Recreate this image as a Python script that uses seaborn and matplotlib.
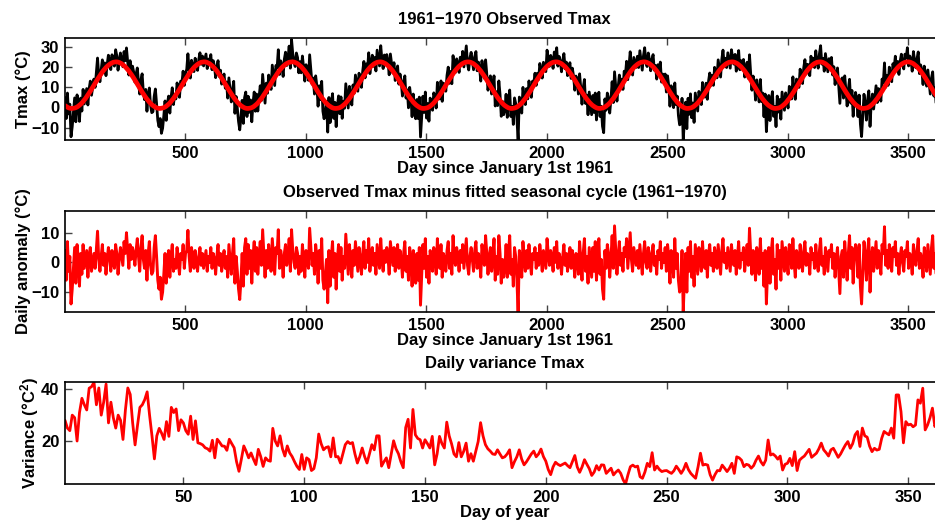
import numpy as np
import pandas as pd
import matplotlib
matplotlib.use("Agg")
import matplotlib.pyplot as plt
import seaborn as sns

# ---------------- data ----------------
step_days = 5  # anomaly / seasonal sampled every 5 days
n_years = 10

# fitted seasonal cycle (deg C) at day-of-year 1, 6, 11, ..., 361
seasonal_cycle = [
    0.9, 0.5, 0.1, -0.2, -0.4, -0.5, -0.5, -0.4, -0.3, -0.1, 0.2, 0.6, 1.1,
    1.6, 2.2, 2.9, 3.7, 4.4, 5.3, 6.2, 7.1, 8.0, 9.0, 10.0, 11.0, 11.9,
    12.9, 13.9, 14.8, 15.7, 16.6, 17.5, 18.3, 19.0, 19.7, 20.3, 20.8, 21.3,
    21.7, 22.0, 22.3, 22.4, 22.5, 22.5, 22.4, 22.2, 21.9, 21.6, 21.1, 20.6,
    20.1, 19.4, 18.7, 18.0, 17.1, 16.3, 15.4, 14.5, 13.5, 12.5, 11.5, 10.6,
    9.6, 8.6, 7.6, 6.7, 5.8, 4.9, 4.1, 3.4, 2.6, 2.0, 1.4,
]

# daily anomaly (deg C), every 5 days, one list per year 1961..1970
anom_1961 = [4, -6, 7, -3, 2, -14, -9, -2, 5, -7, 6, 1, -8,
             3, -4, 6, -2, 1, 4, -5, 2, 5, -3, 0, 3,
             -2, 4, 10.5, 1, -3, 2, 6, -1, 3, -4, 1, 5,
             2, -3, 4, 0, -2, 6, 3, -4, 1, 5, 2, -1,
             7, 3, 10, 4, -2, 6, 1, 5, 3, -1, 4, 8,
             2, -3, 5, 9, 1, -2, 4, -6, 3, 7, -1, -4]
anom_1962 = [-3, 5, 9, 2, -6, -9, -5, -12.4, -10, -4, 3, -7, 1,
             4, -5, 2, 6, -3, 1, -2, 5, 0, -4, 3, 1,
             6, -2, 3, 4, 10.8, 2, -3, 5, 1, -2, 4, 0,
             -3, 2, 5, -1, 3, -2, 1, 4, -3, 2, 0, 5,
             -2, 3, 1, -4, 2, 6, -1, 3, -3, 1, 4, -2,
             2, -5, 6, 1, -4, 3, 8, -7, 2, -3, -9, -12.5]
anom_1963 = [-6, 3, -8, 5, 8, -4, 6, -2, 4, -7, 2, 7, -3,
             5, -4, 2, 7, -1, 11, 3, -5, 4, -2, 6, 1,
             -3, 8, 2, -4, 5, 3, 11, -2, 4, 1, -5, 3,
             6, -1, 2, 8, -3, 11, 4, 0, -2, 5, 3, -4,
             2, -3, 6, 1, -5, 4, 2, -2, 11.5, 5, -1, 3,
             -4, 6, 2, -7, 4, -2, 8, -6, -9, -4, 1, -13.6]
anom_1964 = [4, -8, 2, 7, -5, 3, -9, 1, 6, -3, 5, -6, 2,
             -2, 9.5, 3, -4, 6, 1, -5, 4, -1, 7, 2, -3,
             5, 1, -4, 3, 7, -2, 4, 0, 8, -3, 2, 5,
             -1, 3, -4, 6, 2, -2, 8, 1, -3, 4, 0, 5,
             2, -4, 7, 3, -1, 5, -3, 2, 6, -2, 4, 1,
             -5, 3, 7, -3, 2, -6, 5, 1, -8, 4, -2, -7]
anom_1965 = [3, -6, 5, -14.4, -4, 6, -2, 8, -5, 2, -7, 4, 1,
             -3, 5, 2, -4, 8, 0, -2, 6, -5, 3, 1, -3,
             4, 7, -2, 3, -4, 9, 1, -1, 5, 2, -3, 4,
             0, 6, -2, 3, 8, -1, -4, 2, 5, 1, -3, 4,
             7, -2, 3, 1, -5, 6, 2, -1, 9, 3, -4, 2,
             5, -3, 1, 8, -6, 2, -4, 9, 3, -7, 1, -5]
anom_1966 = [-2, 6, -5, 3, 9, -4, 1, -8, 5, 2, -6, -17, 4,
             2, -5, 7, 1, -3, 4, -2, 6, 0, -4, 3, 1,
             5, -2, 3, -1, 6, 2, -3, 4, 1, -2, 8, 3,
             -1, 4, 2, -3, 5, 0, 7, -2, 3, 1, -4, 2,
             6, -1, 3, -3, 2, 5, -2, 4, 1, -5, 3, 2,
             -4, 7, 1, -6, 3, 8, -3, 2, -7, 5, 0, -5]
anom_1967 = [5, -3, 7, -6, 2, 8, -4, 1, -9, -12.4, 4, -2, 6,
             3, -5, 1, 9, -2, 12.3, 4, -4, 2, 7, -1, 3,
             -3, 5, 2, 8, -2, 4, 10, 1, -3, 5, 2, -1,
             4, -2, 6, 1, -4, 3, 7, 0, -2, 5, 2, -3,
             3, 6, -1, 2, -4, 4, 1, 7, -2, 3, 0, 5,
             -3, 6, 2, -7, 4, 1, -5, 8, -2, 3, -6, -10]
anom_1968 = [-9, 4, -16.5, -6, 3, -10, 5, -3, 7, -5, 2, -8, 6,
             1, -4, 5, 2, -3, 7, 0, -2, 4, -5, 3, 6,
             -1, 3, -3, 5, 2, -2, 6, 1, -4, 4, 8, 0,
             3, -2, 5, 1, -3, 6, 2, -1, 4, -4, 2, 7,
             -2, 3, 1, 5, -3, 2, 6, -1, 11.5, 3, -4, 4,
             2, -6, 5, 1, -4, 8, -2, 3, -8, 4, -14, -3]
anom_1969 = [5, -7, 3, 8, -4, 1, -9, 6, -2, 4, -6, 7, 2,
             -3, 5, 1, -4, 6, 3, -2, 8, 0, -5, 4, 2,
             -2, 6, 1, -3, 4, 7, -1, 3, 2, -4, 5, 1,
             3, -2, 6, 0, -3, 4, 8, -1, 2, -4, 5, 1,
             -3, 4, 2, 6, -2, 3, -5, 1, 5, -3, -10.5, 2,
             4, -5, 7, 1, -6, 3, 9, -2, 5, -7, 2, 6]
anom_1970 = [3, -5, 6, -8, -14, -3, 7, 2, -6, 4, 8, -10, 1,
             5, -3, 2, 7, -2, 4, 1, -4, 6, 3, 12, -1,
             4, -2, 6, 1, -3, 5, 2, 7, -1, 3, -4, 2,
             5, 0, -3, 4, 2, 7, -2, 3, 1, -4, 6, 2,
             -1, 4, 8, -2, 3, 1, -5, 5, 2, -3, 6, 1,
             -4, 5, 9, -2, 3, -6, 4, 8, -3, 2, -5, 6]

# daily variance of Tmax (deg C^2) for day of year 1..365
daily_variance = [
    28, 25, 24, 30, 29, 20, 31, 36.5, 34, 32,
    40.4, 41, 42.7, 34, 40.5, 30, 35, 42, 27, 35,
    29, 25, 30, 28, 20.6, 32, 40.5, 38, 27, 18.5,
    26, 33, 34, 36, 39, 30, 22, 13.1, 22, 24.9,
    23, 20.6, 27.5, 21.8, 33, 31, 32.4, 24, 28.2, 27,
    24, 22.6, 29.6, 20.6, 27.8, 19.3, 19, 18.5, 17.4, 17,
    16.1, 20.3, 13.5, 20.7, 19.5, 18.1, 18, 16.4, 20.7, 19,
    17.4, 12, 8.3, 13, 18.1, 16, 13.5, 15.4, 13, 10.9,
    16.8, 14, 10.2, 13.5, 12.5, 12.2, 24.9, 20, 18.1, 22,
    17, 14.2, 18.1, 15.4, 14, 12, 10.2, 9, 14.8, 9.05,
    13.5, 12.8, 8.6, 9.3, 13.5, 22.7, 19, 16.6, 17.5, 17.8,
    13.9, 21.2, 13.9, 14, 11.5, 15, 18.6, 19.8, 19, 19.4,
    15, 11.5, 14, 17.3, 14, 11.5, 15, 18.6, 16.6, 22,
    22, 10.3, 12, 13.5, 9.7, 15, 20.1, 17, 15.1, 12,
    9.7, 25.2, 28.4, 17.3, 32.2, 22.4, 21, 20.5, 17.3, 20.5,
    19, 17.3, 21.8, 10.8, 15, 21.8, 19, 17.3, 27.3, 22,
    18.9, 15, 13.9, 19.4, 13.9, 16, 19.2, 12.2, 15.1, 12.2,
    16, 19.8, 27.1, 22, 18.6, 17, 16.1, 15, 14.8, 16.6,
    15, 13.5, 13.9, 15, 16.6, 9.7, 12, 13.9, 16.6, 13,
    10.8, 12, 13.5, 15, 16.1, 13.9, 15, 16.9, 14, 12.2,
    9, 7, 10, 11.8, 11, 10.5, 11, 11.5, 10.5, 9.7,
    12, 14.4, 10, 7.9, 10, 12.8, 11, 9.3, 6.7, 8,
    10.5, 8.8, 10.8, 10.7, 7.5, 8.5, 9.5, 6.9, 8, 8.8,
    7.5, 5, 3.4, 7, 10.1, 10.7, 10, 10.3, 6.2, 5.6,
    8, 11.4, 10.1, 15.5, 8.8, 10.3, 9, 8.2, 8.5, 8.6,
    8, 7.5, 8.5, 10.3, 9, 7.5, 9, 11.4, 9, 7.5,
    6.5, 5.6, 10, 15.3, 10.7, 11, 10.7, 7, 4.9, 7,
    8.6, 8.5, 10.7, 9.5, 8.2, 9.5, 11.4, 7.5, 13.9, 13.5,
    12.6, 10.1, 11, 10.7, 9.5, 10.5, 12.6, 14.2, 12, 10.7,
    12.6, 20.4, 14.6, 15, 14.2, 13, 14.2, 8.8, 11, 11.4,
    13.3, 10.5, 15.9, 8.6, 12.6, 13.5, 14.2, 15.5, 16.8, 13.7,
    14.5, 15.3, 17, 19.2, 16.6, 15.5, 14.2, 16.6, 17.2, 15.5,
    13.7, 15, 16.8, 18.5, 19.8, 17.2, 19, 22.4, 23.7, 17.9,
    25, 22, 21.5, 18, 15.9, 17.2, 16.5, 16.8, 21, 23.7,
    23, 22.4, 25, 21.1, 37.8, 37.8, 31.3, 19.3, 27.5, 26.2,
    26.5, 25.5, 26.2, 35.9, 34.6, 40.4, 24.3, 26.2, 29, 32.7,
    25.6, 28, 32, 30, 27,
]

# tick labels
top_xticks = [500, 1000, 1500, 2000, 2500, 3000, 3500]
top_yticks = [-10, 0, 10, 20, 30]
mid_yticks = [-10, 0, 10]
bot_xticks = [50, 100, 150, 200, 250, 300, 350]
bot_yticks = [20, 40]

# ---------------- assemble tables ----------------
anomaly = np.concatenate([anom_1961, anom_1962, anom_1963, anom_1964, anom_1965,
                          anom_1966, anom_1967, anom_1968, anom_1969, anom_1970])
day = 1 + step_days * np.arange(len(anomaly))
seas = np.tile(seasonal_cycle, n_years)
df_ts = pd.DataFrame({"day": day, "anomaly": anomaly, "seasonal": seas,
                      "tmax": seas + anomaly})
df_var = pd.DataFrame({"doy": np.arange(1, len(daily_variance) + 1),
                       "var": daily_variance})

# ---------------- style ----------------
sns.set_style("ticks")
plt.rcParams["font.family"] = ["Liberation Sans", "DejaVu Sans"]
plt.rcParams["font.weight"] = "bold"
plt.rcParams["axes.labelweight"] = "bold"
plt.rcParams["axes.titleweight"] = "bold"
plt.rcParams["text.color"] = "black"
plt.rcParams["axes.labelcolor"] = "black"
plt.rcParams["xtick.color"] = "black"
plt.rcParams["ytick.color"] = "black"
plt.rcParams["mathtext.fontset"] = "custom"
plt.rcParams["mathtext.rm"] = "Liberation Sans:bold"
plt.rcParams["mathtext.bf"] = "Liberation Sans:bold"
plt.rcParams["mathtext.it"] = "Liberation Sans:bold"
plt.rcParams["mathtext.default"] = "bf"

fig = plt.figure(figsize=(9.35, 5.22), dpi=100)
left, width = 65 / 935, (944.5 - 65) / 935
ax1 = fig.add_axes([left, 1 - 140 / 522, width, 102 / 522])
ax2 = fig.add_axes([left, 1 - 312 / 522, width, 101 / 522])
ax3 = fig.add_axes([left, 1 - 484 / 522, width, 102 / 522])

fs = 12
sns.lineplot(data=df_ts, x="day", y="tmax", ax=ax1, color="black",
             linewidth=2.0, estimator=None, sort=False)
sns.lineplot(data=df_ts, x="day", y="seasonal", ax=ax1, color="#ff0000",
             linewidth=3.4, estimator=None, sort=False)
sns.lineplot(data=df_ts, x="day", y="anomaly", ax=ax2, color="#ff0000",
             linewidth=2.1, estimator=None, sort=False)
sns.lineplot(data=df_var, x="doy", y="var", ax=ax3, color="#ff0000",
             linewidth=2.0, estimator=None, sort=False)

ax1.set_xlim(1, 3650); ax1.set_ylim(-16.1, 34.3)
ax2.set_xlim(1, 3650); ax2.set_ylim(-16.7, 17.3)
ax3.set_xlim(1, 365); ax3.set_ylim(3.4, 42.8)

ax1.set_xticks(top_xticks); ax1.set_yticks(top_yticks)
ax2.set_xticks(top_xticks); ax2.set_yticks(mid_yticks)
ax3.set_xticks(bot_xticks); ax3.set_yticks(bot_yticks)

ax1.set_title("1961\u22121970 Observed Tmax", fontsize=fs, fontweight="bold", pad=10)
ax2.set_title("Observed Tmax minus fitted seasonal cycle (1961\u22121970)",
              fontsize=fs, fontweight="bold", pad=10)
ax3.set_title("Daily variance Tmax", fontsize=fs, fontweight="bold", pad=10)

ax1.set_xlabel("Day since January 1st 1961", fontsize=fs, fontweight="bold", labelpad=0)
ax2.set_xlabel("Day since January 1st 1961", fontsize=fs, fontweight="bold", labelpad=0)
ax3.set_xlabel("Day of year", fontsize=fs, fontweight="bold", labelpad=0)
ax1.set_ylabel("Tmax (\u00b0C)", fontsize=fs, fontweight="bold", labelpad=0)
ax2.set_ylabel("Daily anomaly (\u00b0C)", fontsize=fs, fontweight="bold", labelpad=0)
ax3.set_ylabel("Variance (\u00b0C$^{\\mathbf{2}}$)", fontsize=fs, fontweight="bold", labelpad=0)

for ax in (ax1, ax2, ax3):
    for s in ax.spines.values():
        s.set_visible(True)
        s.set_linewidth(1.2)
        s.set_color("black")
    ax.tick_params(axis="both", which="both", direction="in", length=5,
                   width=1, color="#444444", labelcolor="black", labelsize=fs,
                   pad=4, top=True, right=True)
    for lab in ax.get_xticklabels() + ax.get_yticklabels():
        lab.set_fontweight("bold")

fig.savefig("out.png", dpi=100)
